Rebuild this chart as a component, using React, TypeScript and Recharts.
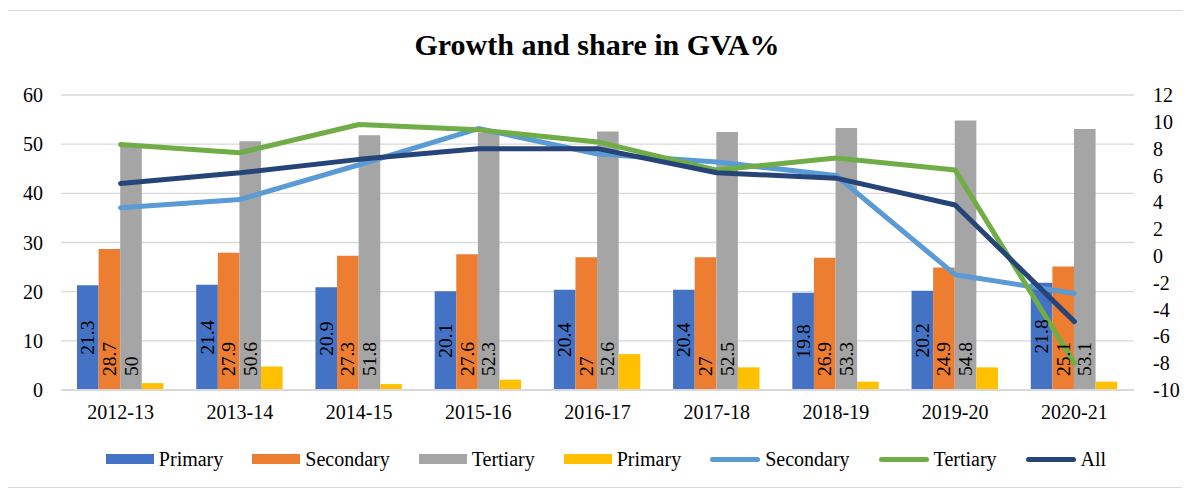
import React from "react";
import {
  ComposedChart,
  Bar,
  Line,
  XAxis,
  YAxis,
  CartesianGrid,
  LabelList,
} from "recharts";

const categories = ["2012-13", "2013-14", "2014-15", "2015-16", "2016-17", "2017-18", "2018-19", "2019-20", "2020-21"];
const primaryShare = [21.3, 21.4, 20.9, 20.1, 20.4, 20.4, 19.8, 20.2, 21.8];
const secondaryShare = [28.7, 27.9, 27.3, 27.6, 27, 27, 26.9, 24.9, 25.1];
const tertiaryShare = [50, 50.6, 51.8, 52.3, 52.6, 52.5, 53.3, 54.8, 53.1];
const primaryGrowth = [1.4, 4.8, 1.2, 2.1, 7.3, 4.6, 1.7, 4.6, 1.7];
const secondaryGrowth = [3.6, 4.2, 6.8, 9.5, 7.6, 7.0, 6.0, -1.4, -2.8];
const tertiaryGrowth = [8.3, 7.7, 9.8, 9.4, 8.5, 6.4, 7.3, 6.4, -8.0];
const allGrowth = [5.4, 6.2, 7.2, 8.0, 8.0, 6.2, 5.8, 3.8, -4.9];

const leftTicks = [0, 10, 20, 30, 40, 50, 60];
const rightTicks = [-10, -8, -6, -4, -2, 0, 2, 4, 6, 8, 10, 12];

const data = categories.map((c, i) => ({
  cat: c,
  pShare: primaryShare[i],
  sShare: secondaryShare[i],
  tShare: tertiaryShare[i],
  pGrowth: primaryGrowth[i],
  sGrowth: secondaryGrowth[i],
  tGrowth: tertiaryGrowth[i],
  aGrowth: allGrowth[i],
}));

const FONT = "'Liberation Serif', 'Times New Roman', Times, serif";

const COLORS = {
  blue: "#4472C4",
  orange: "#ED7D31",
  gray: "#A5A5A5",
  yellow: "#FFC000",
  lightBlue: "#5B9BD5",
  green: "#70AD47",
  navy: "#264478",
};

const legendItems = [
  { name: "Primary", color: COLORS.blue, type: "rect" },
  { name: "Secondary", color: COLORS.orange, type: "rect" },
  { name: "Tertiary", color: COLORS.gray, type: "rect" },
  { name: "Primary", color: COLORS.yellow, type: "rect" },
  { name: "Secondary", color: COLORS.lightBlue, type: "line" },
  { name: "Tertiary", color: COLORS.green, type: "line" },
  { name: "All", color: COLORS.navy, type: "line" },
];

const InsideBaseLabel = (props: any) => {
  const { x, y, width, height, value } = props;
  const cx = Number(x) + Number(width) / 2;
  const by = Number(y) + Number(height) - 14;
  return (
    <text
      x={cx}
      y={by}
      transform={`rotate(-90 ${cx} ${by})`}
      textAnchor="start"
      dominantBaseline="central"
      fontSize={19.5}
      fontFamily={FONT}
      fill="#000"
    >
      {value}
    </text>
  );
};

const CenterLabel = (props: any) => {
  const { x, y, width, height, value } = props;
  const cx = Number(x) + Number(width) / 2;
  const cy = Number(y) + Number(height) / 2;
  return (
    <text
      x={cx}
      y={cy}
      transform={`rotate(-90 ${cx} ${cy})`}
      textAnchor="middle"
      dominantBaseline="central"
      fontSize={19.5}
      fontFamily={FONT}
      fill="#000"
    >
      {value}
    </text>
  );
};

const tickStyle = { fontFamily: FONT, fontSize: 20, fill: "#000" };

export default function App() {
  return (
    <div
      style={{
        position: "relative",
        width: 1180,
        height: 478,
        border: "1px solid #D9D9D9",
        marginTop: 2,
        marginLeft: -1,
        background: "#fff",
        boxSizing: "border-box",
        fontFamily: FONT,
      }}
    >
      <div
        style={{
          position: "absolute",
          top: 17,
          left: 0,
          width: "100%",
          textAlign: "center",
          fontFamily: FONT,
          fontWeight: "bold",
          fontSize: 30,
          lineHeight: "34px",
          color: "#000",
        }}
      >
        Growth and share in GVA%
      </div>
      <ComposedChart
        width={1178}
        height={476}
        data={data}
        margin={{ top: 84, right: 0, left: 0, bottom: 57 }}
        barGap={0}
        style={{ position: "absolute", top: 0, left: 0, fontFamily: FONT }}
      >
        <CartesianGrid yAxisId="left" vertical={false} stroke="#D9D9D9" strokeWidth={1.3} />
        <XAxis
          dataKey="cat"
          axisLine={{ stroke: "#D9D9D9", strokeWidth: 2 }}
          tickLine={false}
          tickSize={0}
          tickMargin={15}
          height={40}
          tick={tickStyle}
        />
        <YAxis
          yAxisId="left"
          domain={[0, 60]}
          ticks={leftTicks}
          axisLine={false}
          tickLine={false}
          tickSize={0}
          tickMargin={18}
          width={53}
          tick={tickStyle}
        />
        <YAxis
          yAxisId="right"
          orientation="right"
          domain={[-10, 12]}
          ticks={rightTicks}
          interval={0}
          axisLine={false}
          tickLine={false}
          tickSize={0}
          tickMargin={19}
          width={52}
          tick={{ ...tickStyle, textAnchor: "start" }}
        />
        <Bar yAxisId="left" dataKey="pShare" name="Primary" fill={COLORS.blue} barSize={21.6} isAnimationActive={false}>
          <LabelList dataKey="pShare" content={CenterLabel} />
        </Bar>
        <Bar yAxisId="left" dataKey="sShare" name="Secondary" fill={COLORS.orange} barSize={21.6} isAnimationActive={false}>
          <LabelList dataKey="sShare" content={InsideBaseLabel} />
        </Bar>
        <Bar yAxisId="left" dataKey="tShare" name="Tertiary" fill={COLORS.gray} barSize={21.6} isAnimationActive={false}>
          <LabelList dataKey="tShare" content={InsideBaseLabel} />
        </Bar>
        <Bar yAxisId="left" dataKey="pGrowth" name="Primary" fill={COLORS.yellow} barSize={21.6} isAnimationActive={false} />
        <Line yAxisId="right" dataKey="sGrowth" name="Secondary" stroke={COLORS.lightBlue} strokeWidth={5} strokeLinecap="round" strokeLinejoin="round" dot={false} activeDot={false} isAnimationActive={false} />
        <Line yAxisId="right" dataKey="tGrowth" name="Tertiary" stroke={COLORS.green} strokeWidth={5} strokeLinecap="round" strokeLinejoin="round" dot={false} activeDot={false} isAnimationActive={false} />
        <Line yAxisId="right" dataKey="aGrowth" name="All" stroke={COLORS.navy} strokeWidth={5} strokeLinecap="round" strokeLinejoin="round" dot={false} activeDot={false} isAnimationActive={false} />
      </ComposedChart>
      <div
        style={{
          position: "absolute",
          top: 436,
          left: 9,
          width: "100%",
          display: "flex",
          justifyContent: "center",
          alignItems: "center",
          gap: 29,
          fontFamily: FONT,
          fontSize: 20,
          lineHeight: "24px",
          color: "#000",
        }}
      >
        {legendItems.map((it, i) => (
          <div key={i} style={{ display: "flex", alignItems: "center", gap: 5 }}>
            {it.type === "rect" ? (
              <div style={{ width: 48, height: 10, background: it.color }} />
            ) : (
              <div style={{ width: 50, height: 5, background: it.color, borderRadius: 3 }} />
            )}
            <span>{it.name}</span>
          </div>
        ))}
      </div>
    </div>
  );
}
